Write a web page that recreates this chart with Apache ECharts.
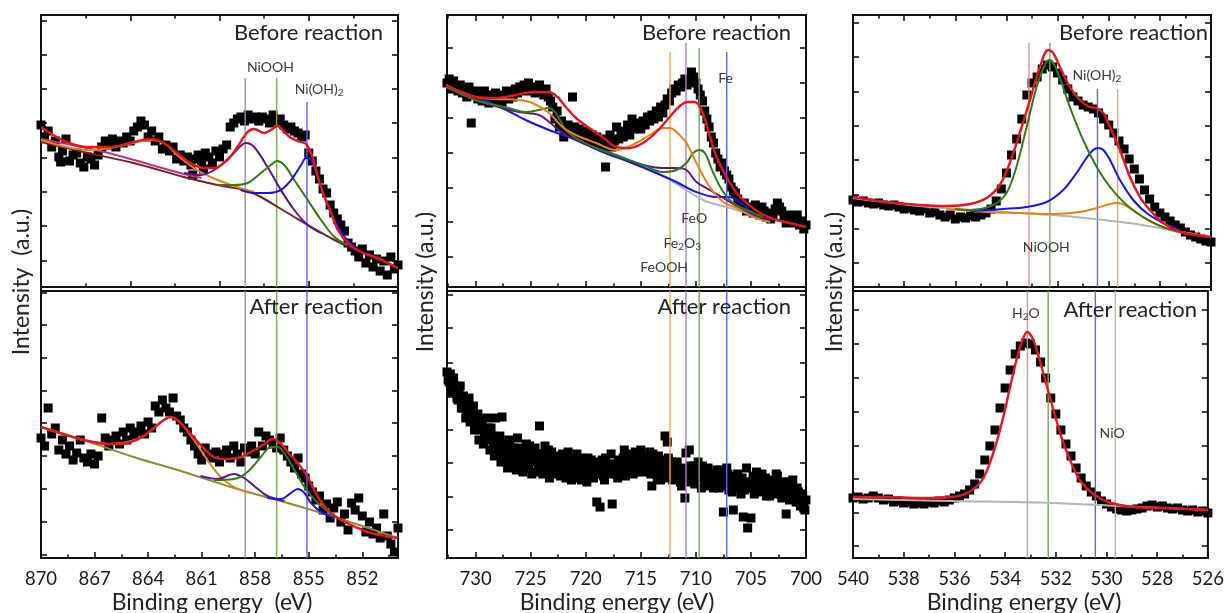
<!DOCTYPE html>
<html><head><meta charset="utf-8">
<script src="https://cdn.jsdelivr.net/npm/echarts@6/dist/echarts.min.js"></script>
<style>html,body{margin:0;padding:0;background:#fff}#c{width:1227px;height:613px}</style>
</head><body><div id="c"></div>
<script>
// ===== Ni 2p (intensity in a.u.) =====
const niBeforeData = [[870.0,162],[869.8,150],[869.6,156],[869.4,140],[869.2,146],[869.0,130],[868.9,125],[868.8,136],[868.6,148],[868.4,126],[868.2,132],[868.0,134],[867.8,124],[867.6,120],[867.4,130],[867.2,128],[867.0,122],[866.8,132],[866.6,140],[866.4,146],[866.2,142],[866.0,148],[865.8,140],[865.6,146],[865.4,144],[865.2,150],[865.0,146],[864.8,156],[864.6,160],[864.4,166],[864.2,162],[864.0,150],[863.8,156],[863.6,146],[863.4,150],[863.2,138],[863.0,142],[862.8,136],[862.6,140],[862.4,128],[862.2,132],[862.0,126],[861.8,130],[861.6,122],[861.5,112],[861.4,128],[861.2,132],[861.0,126],[860.9,118],[860.8,134],[860.6,130],[860.4,124],[860.2,136],[860.0,130],[859.8,138],[859.6,142],[859.4,160],[859.2,164],[859.0,168],[858.8,170],[858.6,166],[858.4,172],[858.2,168],[858.0,170],[857.8,166],[857.6,170],[857.4,168],[857.2,164],[857.0,172],[856.8,166],[856.6,168],[856.4,162],[856.2,158],[856.0,160],[855.8,156],[855.6,154],[855.4,150],[855.2,152],[855.0,134],[854.8,126],[854.6,116],[854.4,108],[854.2,98],[854.0,94],[853.8,82],[853.6,74],[853.4,68],[853.2,62],[853.0,56],[852.8,44],[852.6,40],[852.4,36],[852.2,30],[852.0,38],[851.8,24],[851.6,32],[851.4,20],[851.2,28],[851.0,16],[850.8,26],[850.6,12],[850.4,30],[850.2,18],[850.0,22]];
const niBeforeFit = [[870.0,160],[869.31,152],[868.56,145],[867.43,140],[866.12,140],[864.81,145],[863.87,148],[863.12,144],[862.37,134],[861.62,124],[860.87,119],[860.31,119],[859.56,127],[859.0,140],[858.43,155],[858.06,158],[857.49,154],[857.12,157],[856.74,161],[856.37,155],[855.99,149],[855.43,145],[855.15,143],[854.87,134],[854.49,110],[854.12,90],[853.74,74],[853.37,57],[852.81,44],[852.06,35],[851.12,29],[850.0,19]];
const niBeforeBg = [[870.0,145],[867.62,135],[864.81,124],[861.99,110],[860.12,102],[858.62,97],[857.68,90],[856.74,80],[855.81,70],[855.06,62],[853.56,47],[852.43,38],[851.31,29],[850.0,19]];
const niBeforeMg = [[870.0,148],[868.0,141],[866.0,133],[864.0,123],[862.0,113],[861.0,109]];
const niBeforeSat = [[870.0,147],[868.56,140],[867.43,137],[866.12,139],[864.81,144],[863.87,147],[863.12,144],[862.37,132],[861.43,119],[860.5,110],[859.19,101],[858.06,95]];
const niBeforeNiOOH = [[861.99,114],[861.06,112],[860.12,119],[859.19,134],[858.52,144],[858.06,140],[857.31,120],[856.56,97],[855.81,77],[855.06,62],[854.31,54]];
const niBeforeNi3 = [[860.12,102],[859.19,102],[858.43,104],[857.68,114],[857.12,122],[856.78,126],[856.37,122],[855.81,107],[855.06,87],[854.31,67],[853.56,50],[852.81,42]];
const niBeforeNiOH2 = [[858.81,97],[858.06,94],[857.31,94],[856.56,97],[855.99,107],[855.43,122],[855.15,129],[854.87,127],[854.49,110],[854.12,90],[853.56,67],[852.99,50],[852.43,40]];

const niAfterData = [[870.0,120],[869.8,112],[869.6,150],[869.4,124],[869.2,130],[869.0,108],[868.8,118],[868.6,104],[868.4,112],[868.2,98],[868.0,105],[867.8,118],[867.6,100],[867.4,96],[867.2,104],[867.0,94],[866.8,102],[866.6,140],[866.4,120],[866.2,112],[866.0,118],[865.8,122],[865.6,114],[865.4,126],[865.2,118],[865.0,130],[864.8,122],[864.6,126],[864.4,132],[864.2,124],[864.0,136],[863.8,130],[863.6,152],[863.4,146],[863.2,158],[863.0,150],[862.8,146],[862.6,160],[862.4,142],[862.2,138],[862.0,130],[861.8,126],[861.6,118],[861.4,112],[861.2,104],[861.0,98],[860.8,110],[860.6,104],[860.4,100],[860.2,106],[860.0,96],[859.8,104],[859.6,108],[859.4,100],[859.2,112],[859.0,104],[858.8,96],[858.6,110],[858.4,106],[858.2,112],[858.0,104],[857.8,126],[857.6,112],[857.4,122],[857.2,118],[857.0,114],[856.8,110],[856.6,120],[856.4,108],[856.2,102],[856.0,96],[855.8,90],[855.6,100],[855.4,84],[855.2,80],[855.0,72],[854.8,66],[854.6,58],[854.4,62],[854.2,48],[854.0,54],[853.8,40],[853.6,50],[853.4,56],[853.2,36],[853.0,44],[852.8,28],[852.6,55],[852.4,48],[852.2,60],[852.0,42],[851.8,26],[851.6,36],[851.4,24],[851.2,30],[851.0,20],[850.8,44],[850.6,22],[850.4,14],[850.2,6],[850.0,30]];
const niAfterFit = [[870.0,131],[868.93,125],[867.62,118],[866.12,114],[865.18,115],[864.43,120],[863.68,130],[863.12,138],[862.74,141],[862.37,138],[861.81,128],[861.06,113],[860.31,101],[859.56,99],[858.81,101],[858.06,108],[857.49,114],[857.02,119],[856.65,116],[856.18,106],[855.62,95],[855.06,81],[854.49,61],[853.93,48],[853.37,40],[852.62,33],[851.68,26],[850.74,22],[850.0,20]];
const niAfterBg = [[870.0,131],[867.62,118],[864.81,101],[862.0,86],[859.19,70],[856.37,56],[853.56,41],[851.68,30],[850.0,20]];
const niAfterSat = [[870.0,131],[867.62,118],[866.12,114],[864.43,120],[863.68,130],[863.12,138],[862.74,141],[862.18,135],[861.43,118],[860.68,98],[859.93,81],[859.19,71],[858.43,66]];
const niAfterNiOOH = [[861.06,82],[860.12,79],[859.19,84],[858.62,80],[858.06,72],[857.31,62],[856.37,57]];
const niAfterNi3 = [[860.31,78],[859.19,79],[858.43,86],[857.68,101],[857.12,111],[856.74,111],[856.37,105],[855.8,88],[855.24,71],[854.49,55],[853.56,42]];
const niAfterNiOH2 = [[857.31,60],[856.56,59],[856.0,65],[855.62,69],[855.24,65],[854.87,55],[854.31,46],[853.56,40]];

// ===== Fe 2p =====
const feBeforeData = [[732.6,204],[732.4,208],[732.2,198],[732.0,206],[731.8,200],[731.6,196],[731.4,202],[731.2,194],[731.0,198],[730.8,190],[730.6,200],[730.4,164],[730.2,192],[730.0,196],[729.8,188],[729.6,194],[729.4,186],[729.2,196],[729.0,190],[728.8,184],[728.6,192],[728.4,188],[728.2,194],[728.0,186],[727.8,192],[727.6,184],[727.4,190],[727.2,196],[727.0,188],[726.8,194],[726.6,190],[726.4,198],[726.2,194],[726.0,200],[725.8,196],[725.6,202],[725.4,198],[725.2,204],[725.0,196],[724.8,200],[724.6,194],[724.4,198],[724.2,202],[724.0,196],[723.8,192],[723.6,198],[723.4,190],[723.2,186],[723.0,180],[722.8,168],[722.6,176],[722.4,160],[722.2,166],[722.0,150],[721.8,158],[721.6,162],[721.4,154],[721.2,190],[721.0,160],[720.8,152],[720.6,158],[720.4,150],[720.2,156],[720.0,148],[719.8,154],[719.6,146],[719.4,152],[719.2,144],[719.0,150],[718.8,142],[718.6,148],[718.4,140],[718.2,120],[718.0,146],[717.8,152],[717.6,140],[717.4,146],[717.2,160],[717.0,148],[716.8,154],[716.6,150],[716.4,156],[716.2,162],[716.0,152],[715.8,168],[715.6,158],[715.4,164],[715.2,160],[715.0,158],[714.8,166],[714.6,162],[714.4,170],[714.2,166],[714.0,172],[713.8,168],[713.6,176],[713.4,170],[713.2,180],[713.0,174],[712.8,182],[712.6,188],[712.4,186],[712.2,194],[712.0,198],[711.8,196],[711.6,202],[711.4,200],[711.2,204],[711.0,208],[710.8,202],[710.6,206],[710.4,215],[710.2,210],[710.0,204],[709.8,198],[709.6,192],[709.4,186],[709.2,176],[709.0,168],[708.8,160],[708.6,150],[708.4,144],[708.2,134],[708.0,128],[707.8,120],[707.6,124],[707.4,116],[707.2,112],[707.0,108],[706.8,100],[706.6,96],[706.4,94],[706.2,88],[706.0,84],[705.8,80],[705.6,84],[705.4,76],[705.2,78],[705.0,80],[704.8,74],[704.6,82],[704.4,78],[704.2,72],[704.0,80],[703.8,76],[703.6,70],[703.4,74],[703.2,68],[703.0,72],[702.8,78],[702.6,84],[702.4,80],[702.2,76],[702.0,70],[701.8,64],[701.6,72],[701.4,66],[701.2,70],[701.0,64],[700.8,72],[700.6,62],[700.4,66],[700.2,58],[700.0,62]];
const feBeforeFit = [[732.69,202],[731.54,196],[730.02,190],[728.19,189],[726.37,192],[724.85,195],[723.33,195],[722.57,190],[721.81,180],[720.89,169],[719.68,159],[718.46,150],[717.24,140],[716.03,139],[714.81,144],[713.59,155],[712.38,170],[711.47,181],[710.71,185],[710.10,185],[709.49,177],[708.89,157],[708.12,130],[707.21,110],[706.30,94],[705.38,84],[704.17,74],[702.65,67],[701.13,63],[700.0,60]];
const feBeforeFeOOH = [[732.69,202],[731.54,196],[730.02,190],[728.19,188],[726.06,187],[724.85,184],[723.33,174],[722.11,160],[720.89,152],[719.07,144],[717.24,137],[715.42,144],[714.20,152],[712.99,159],[712.38,159],[711.77,155],[710.86,144],[709.95,124],[708.73,100],[707.51,85],[706.30,79],[704.77,70],[703.25,65]];
const feBeforeFeO = [[732.69,200],[730.02,187],[726.98,179],[725.46,175],[724.24,177],[723.33,179],[722.72,174],[721.81,157],[720.89,149],[719.07,139],[717.24,132],[714.81,122],[712.99,115],[711.77,117],[710.86,124],[710.25,134],[709.70,137],[709.18,134],[708.42,114],[707.51,95],[706.60,84],[705.38,77],[703.86,70]];
const feBeforeFe2O3 = [[732.69,200],[730.02,187],[727.59,179],[726.06,175],[724.24,172],[723.33,165],[722.11,154],[720.29,144],[718.46,137],[716.64,129],[714.81,122],[712.99,119],[711.77,119],[710.86,117],[709.95,105],[708.73,97],[707.21,87],[705.69,77],[704.17,70],[702.65,67],[700.0,60]];
const feBeforeFe = [[732.69,201],[730.02,190],[727.59,179],[725.46,167],[723.33,157],[720.89,147],[718.46,135],[716.03,125],[713.59,114],[711.77,105],[709.95,95],[708.12,90],[707.21,90],[706.60,89],[705.69,82],[704.77,74],[703.25,67]];
const feBeforeBg = [[717.24,130],[712.99,111],[709.34,87],[706.9,79],[704.17,70]];
const feAfterData = [[732.6,186],[732.4,176],[732.2,170],[732.0,180],[731.8,166],[731.6,158],[731.4,172],[731.2,150],[731.0,156],[730.8,146],[730.6,160],[730.4,140],[730.2,152],[730.0,134],[729.8,144],[729.6,128],[729.4,138],[729.2,122],[729.0,140],[728.8,118],[728.6,130],[728.4,112],[728.2,140],[728.0,106],[727.8,122],[727.6,141],[727.5,100],[727.4,114],[727.2,96],[727.0,118],[726.8,104],[726.6,110],[726.4,98],[726.2,120],[726.0,102],[725.8,108],[725.6,94],[725.4,114],[725.2,90],[725.0,106],[724.8,100],[724.6,110],[724.4,86],[724.2,132],[724.0,98],[723.8,104],[723.6,92],[723.4,108],[723.2,88],[723.0,100],[722.8,94],[722.6,84],[722.4,102],[722.2,90],[722.0,96],[721.8,80],[721.6,106],[721.4,88],[721.2,98],[721.0,84],[720.8,104],[720.6,92],[720.4,78],[720.2,98],[720.0,88],[719.8,100],[719.6,82],[719.4,94],[719.2,86],[719.0,56],[718.8,96],[718.7,51],[718.6,90],[718.4,82],[718.2,100],[718.0,88],[717.8,94],[717.6,54],[717.4,92],[717.2,84],[717.0,98],[716.8,88],[716.6,100],[716.4,82],[716.2,96],[716.0,104],[715.8,90],[715.6,98],[715.4,86],[715.2,102],[715.0,108],[714.8,94],[714.6,100],[714.4,88],[714.2,106],[714.0,72],[713.8,96],[713.6,84],[713.4,102],[713.2,78],[713.0,94],[712.8,122],[712.6,116],[712.4,84],[712.2,96],[712.0,88],[711.8,92],[711.6,80],[711.4,76],[711.2,90],[711.0,60],[710.9,105],[710.8,84],[710.6,108],[710.4,80],[710.2,92],[710.0,86],[709.8,96],[709.6,80],[709.4,92],[709.2,74],[709.0,86],[708.8,78],[708.6,84],[708.4,70],[708.2,80],[708.0,74],[707.8,88],[707.6,72],[707.5,46],[707.4,78],[707.2,90],[707.0,68],[706.8,80],[706.6,48],[706.4,76],[706.2,84],[706.0,72],[705.8,80],[705.7,41],[705.6,68],[705.4,90],[705.3,30],[705.2,76],[705.0,40],[704.8,82],[704.6,70],[704.4,78],[704.2,66],[704.0,84],[703.8,72],[703.6,62],[703.4,78],[703.2,68],[703.0,74],[702.8,64],[702.6,82],[702.4,70],[702.2,60],[702.0,76],[701.8,44],[701.6,72],[701.4,66],[701.2,78],[701.0,62],[700.8,70],[700.6,56],[700.4,64],[700.2,50],[700.0,58],
 [732.5,178],[732.3,184],[732.1,166],[731.9,172],[731.7,160],[731.5,168],[731.3,150],[731.1,162],[730.9,140],[730.7,150],[730.5,136],[730.3,146],[730.1,128],[729.9,138],[729.7,118],[729.5,132],[729.3,114],[729.1,126],[728.9,130],[728.7,108],[728.5,122],[728.3,102],[728.1,116],[727.9,110],[727.7,96],[727.3,108],[727.1,90],[726.9,112],[726.7,92],[726.5,106],[726.3,88],[726.1,110],[725.9,96],[725.7,86],[725.5,104],[725.3,98],[725.1,112],[724.9,84],[724.7,96],[724.5,104],[724.3,90],[724.1,100],[723.9,84],[723.7,112],[723.5,96],[723.3,80],[723.1,106],[722.9,86],[722.7,100],[722.5,92],[722.3,82],[722.1,104],[721.9,94],[721.7,86],[721.5,100],[721.3,78],[721.1,92],[720.9,88],[720.7,80],[720.5,100],[720.3,86],[720.1,94],[719.9,76],[719.7,90],[719.5,98],[719.3,80],[719.1,92],[718.9,84],[718.5,98],[718.3,78],[718.1,92],[717.9,84],[717.7,104],[717.5,86],[717.3,94],[717.1,80],[716.9,96],[716.7,90],[716.5,108],[716.3,86],[716.1,98],[715.9,92],[715.7,84],[715.5,106],[715.3,94],[715.1,88],[714.9,100],[714.7,86],[714.5,96],[714.3,92],[714.1,84],[713.9,104],[713.7,90],[713.5,80],[713.3,98],[713.1,86],[712.9,92],[712.7,80],[712.5,100],[712.3,90],[712.1,78],[711.9,86],[711.7,96],[711.5,84],[711.3,72],[711.1,88],[710.7,76],[710.5,92],[710.3,84],[710.1,74],[709.9,90],[709.7,86],[709.5,70],[709.3,84],[709.1,78],[708.9,90],[708.7,72],[708.5,82],[708.3,76],[708.1,88],[707.9,70],[707.7,80],[707.3,72],[707.1,84],[706.9,74],[706.7,66],[706.5,82],[706.3,70],[706.1,78],[705.9,64],[705.5,74],[705.1,70],[704.9,76],[704.7,64],[704.5,86],[704.3,72],[704.1,78],[703.9,68],[703.7,80],[703.5,70],[703.3,62],[703.1,76],[702.9,70],[702.7,84],[702.5,66],[702.3,74],[702.1,68],[701.9,62],[701.7,76],[701.5,58],[701.3,70],[701.1,64],[700.9,56],[700.7,66],[700.5,52],[700.3,62],[700.1,48]];

// ===== O 1s =====
const oBeforeData = [[540.0,87],[539.8,85],[539.6,86],[539.4,84],[539.2,83],[539.0,84],[538.8,82],[538.6,81],[538.4,82],[538.2,80],[538.0,78],[537.8,79],[537.6,77],[537.4,76],[537.2,78],[537.0,74],[536.8,75],[536.6,72],[536.4,70],[536.2,72],[536.0,68],[535.8,70],[535.6,69],[535.4,71],[535.2,70],[535.0,72],[534.8,74],[534.6,78],[534.4,86],[534.2,98],[534.0,114],[533.8,132],[533.6,148],[533.4,168],[533.2,192],[533.0,204],[532.8,210],[532.6,218],[532.4,222],[532.2,220],[532.0,214],[531.8,207],[531.6,198],[531.4,190],[531.2,186],[531.0,182],[530.8,180],[530.6,178],[530.4,174],[530.2,168],[530.0,162],[529.8,154],[529.6,146],[529.4,138],[529.2,128],[529.0,118],[528.8,108],[528.6,97],[528.4,88],[528.2,80],[528.0,74],[527.8,70],[527.6,66],[527.4,62],[527.2,59],[527.0,55],[526.8,52],[526.6,50],[526.4,48],[526.2,46],[526.0,45]];
const oBeforeFit = [[540.0,90],[538.70,85],[537.39,82],[536.35,81],[535.43,83],[534.78,89],[534.26,102],[533.87,124],[533.48,154],[533.08,187],[532.69,220],[532.37,237],[532.17,234],[531.91,220],[531.52,200],[531.13,187],[530.74,180],[530.47,179],[530.21,174],[529.95,160],[529.56,137],[529.17,110],[528.78,90],[528.39,77],[527.87,64],[527.21,55],[526.56,52],[526.0,50]];
const oBeforeNiOOH = [[536.0,78],[535.43,77],[534.52,82],[534.0,94],[533.61,120],[533.21,160],[532.82,200],[532.5,222],[532.33,227],[532.17,224],[531.91,209],[531.52,180],[531.0,147],[530.47,120],[529.95,100],[529.30,82],[528.65,70],[527.87,60],[526.95,54]];
const oBeforeNiOH2 = [[535.43,76],[534.13,78],[533.21,80],[532.43,85],[531.78,97],[531.26,114],[530.87,129],[530.61,137],[530.41,139],[530.21,137],[529.95,127],[529.56,107],[529.04,87],[528.52,74],[527.87,64],[527.21,57]];
const oBeforeNiO = [[536.35,78],[534.78,75],[533.48,74],[532.17,73],[531.13,75],[530.47,79],[529.95,83],[529.65,84],[529.30,81],[528.78,72],[528.26,64],[527.6,57],[526.95,54],[526.0,50]];
const oBeforeBg = [[540.0,89],[537.39,81],[534.78,76],[532.17,72],[530.21,67],[528.91,63],[527.6,57],[526.0,50]];
const oAfterData = [[540.0,60],[539.8,61],[539.6,59],[539.4,60],[539.2,62],[539.0,60],[538.8,58],[538.6,59],[538.4,56],[538.2,57],[538.0,55],[537.8,56],[537.6,54],[537.4,55],[537.2,54],[537.0,56],[536.8,55],[536.6,57],[536.4,56],[536.2,58],[536.0,60],[535.8,62],[535.6,64],[535.4,68],[535.2,74],[535.0,84],[534.8,98],[534.6,112],[534.4,128],[534.2,150],[534.0,170],[533.8,188],[533.6,204],[533.4,212],[533.2,215],[533.0,214],[532.8,208],[532.6,196],[532.4,180],[532.2,160],[532.0,144],[531.8,128],[531.6,114],[531.4,102],[531.2,90],[531.0,80],[530.8,72],[530.6,66],[530.4,62],[530.2,57],[530.0,54],[529.8,51],[529.6,49],[529.4,48],[529.2,47],[529.0,48],[528.8,49],[528.6,50],[528.4,52],[528.2,53],[528.0,51],[527.8,52],[527.6,50],[527.4,49],[527.2,50],[527.0,48],[526.8,47],[526.6,48],[526.4,46],[526.2,47],[526.0,45]];
const oAfterFit = [[540.0,61],[538.7,61],[537.39,60],[536.09,61],[535.43,66],[534.91,78],[534.52,101],[534.13,135],[533.74,178],[533.41,211],[533.12,226],[532.89,218],[532.56,191],[532.17,155],[531.78,121],[531.39,95],[531.0,76],[530.47,63],[529.82,55],[528.91,51],[527.6,50],[526.0,48]];
const oAfterBg = [[540.0,59],[536.09,57],[532.17,55],[529.56,52],[526.0,48]];

// ===== axis ticks =====
const niTopMajor = [855,860,865], niTopMinor = [852.5,857.5,862.5,867.5];
const niBotMajor = [852,855,858,861,864,867,870], niBotMinor = [850.5,853.5,856.5,859.5,862.5,865.5,868.5];
const feMajor = [700,705,710,715,720,725,730], feMinor = [702.5,707.5,712.5,717.5,722.5,727.5,732.5];
const oMajor = [526,528,530,532,534,536,538,540], oMinor = [527,529,531,533,535,537,539];
const niTopY = [26,61,95,129,164,198,232,266], niBotY = [3,36,69,102,135,167,200,233,265];
const feTopY = [30,65,99,134,169,204,239], feBotY = [28,61,95,128,161,195,230,263];
const oTopY = [24,58,92,127,161,195,230,264], oBotY = [12,45,79,112,146,180,214,248];

// reference line energies and labels
const niLines = [858.56, 856.8, 855.1], niLineTop = [209, 209, 185];
const feLines = [712.35, 710.9, 709.7, 707.2], feLineTop = [235, 244, 239, 235];
const oLines = [533.12, 532.3, 530.44, 529.65], oLineTop = [244, 244, 198, 198];

const FONT = 'Lato, "Open Sans", sans-serif';
const C = {red:'#e8141c', brown:'#7a1e1e', mag:'#c0308f', orange:'#ee7f16', purple:'#5a1690', green:'#2f7c10', blue:'#1414f0', olive:'#8f8a2e', gray:'#b4b4b4'};
const VL = {purple:'#b07ed4', green:'#72ab55', blue:'#6060ff', orange:'#f3a65b', red:'#ef8a8a'};

const panels = [
  {left:41, width:357, min:850, max:870, title:'Binding energy  (eV)', ytitle:'Intensity  (a.u.)', tx:212, yx:22,
   top:{major:niTopMajor, minor:niTopMinor, yt:niTopY, data:niBeforeData,
        curves:[[niBeforeBg,C.brown],[niBeforeMg,C.mag],[niBeforeSat,C.orange],[niBeforeNiOOH,C.purple],[niBeforeNi3,C.green],[niBeforeNiOH2,C.blue],[niBeforeFit,C.red]],
        lines:niLines, lineTop:niLineTop, lineCol:[VL.purple,VL.green,VL.blue]},
   bot:{major:niBotMajor, minor:niBotMinor, yt:niBotY, data:niAfterData,
        curves:[[niAfterBg,C.olive],[niAfterSat,C.orange],[niAfterNiOOH,C.purple],[niAfterNi3,C.green],[niAfterNiOH2,C.blue],[niAfterFit,C.red]],
        lines:niLines, lineCol:[VL.purple,VL.green,VL.blue]}},
  {left:447, width:359, min:700, max:732.6, title:'Binding energy (eV)', ytitle:'Intensity (a.u.)', tx:617, yx:426,
   top:{major:feMajor, minor:feMinor, yt:feTopY, data:feBeforeData,
        curves:[[feBeforeBg,C.gray],[feBeforeFe,C.blue],[feBeforeFe2O3,C.purple],[feBeforeFeO,C.green],[feBeforeFeOOH,C.orange],[feBeforeFit,C.red]],
        lines:feLines, lineTop:feLineTop, lineCol:[VL.orange,VL.purple,VL.green,VL.blue]},
   bot:{major:feMajor, minor:feMinor, yt:feBotY, data:feAfterData, curves:[],
        lines:feLines, lineCol:[VL.orange,VL.purple,VL.green,VL.blue]}},
  {left:853, width:358, min:526, max:540, title:'Binding energy (eV)', ytitle:'Intensity (a.u.)', tx:1024, yx:835,
   top:{major:oMajor, minor:oMinor, yt:oTopY, data:oBeforeData,
        curves:[[oBeforeBg,C.gray],[oBeforeNiO,C.orange],[oBeforeNiOH2,C.blue],[oBeforeNiOOH,C.green],[oBeforeFit,C.red]],
        lines:oLines, lineTop:oLineTop, lineCol:[VL.red,VL.green,VL.blue,VL.orange]},
   bot:{major:oMajor, minor:oMinor, yt:oBotY, data:oAfterData,
        curves:[[oAfterBg,C.gray],[oAfterFit,C.red]],
        lines:oLines, lineCol:[VL.red,VL.green,VL.blue,VL.orange]}}
];

const TOP_Y = 15, TOP_H = 272, BOT_Y = 291, BOT_H = 267;
const grids=[], xAxis=[], yAxis=[], series=[], refs=[];
const tickStyle = {color:'#111', width:1.6};
panels.forEach((p, pi) => {
  ['top','bot'].forEach(k => {
    const g = p[k], isTop = k === 'top';
    const gi = grids.length;
    const H = isTop ? TOP_H : BOT_H;
    grids.push({left:p.left, width:p.width, top:isTop?TOP_Y:BOT_Y, height:H, show:true, borderColor:'#111', borderWidth:2, backgroundColor:'rgba(0,0,0,0)'});
    const bx = {type:'value', gridIndex:gi, min:p.min, max:p.max, inverse:true, axisLine:{show:false}, splitLine:{show:false}};
    const xi = xAxis.length;
    xAxis.push(Object.assign({}, bx, {position:'bottom',
      axisTick:{show:true, inside:true, length:6, customValues:g.major, lineStyle:tickStyle},
      axisLabel:{show:!isTop, customValues:g.major, showMinLabel:true, showMaxLabel:true, fontSize:18.5, color:'#1a1a1a', margin:12, fontFamily:FONT}}));
    xAxis.push(Object.assign({}, bx, {position:'bottom',
      axisTick:{show:true, inside:true, length:3.5, customValues:g.minor, lineStyle:tickStyle}, axisLabel:{show:false}}));
    if (isTop) {
      xAxis.push(Object.assign({}, bx, {position:'top',
        axisTick:{show:true, inside:true, length:6, customValues:g.major, lineStyle:tickStyle}, axisLabel:{show:false}}));
      xAxis.push(Object.assign({}, bx, {position:'top',
        axisTick:{show:true, inside:true, length:3.5, customValues:g.minor, lineStyle:tickStyle}, axisLabel:{show:false}}));
    }
    const by = {type:'value', gridIndex:gi, min:0, max:H, axisLine:{show:false}, splitLine:{show:false}, axisLabel:{show:false}};
    const yi = yAxis.length;
    yAxis.push(Object.assign({}, by, {position:'left', axisTick:{show:true, inside:true, length:6, customValues:g.yt, lineStyle:tickStyle}}));
    yAxis.push(Object.assign({}, by, {position:'right', axisTick:{show:true, inside:true, length:6, customValues:g.yt, lineStyle:tickStyle}}));
    refs.push({xi, yi});
    series.push({type:'scatter', xAxisIndex:xi, yAxisIndex:yi, data:g.data, symbol:'rect', symbolSize:9,
      itemStyle:{color:'#000', opacity:1}, silent:true, z:2});
    g.lines.forEach((e, li) => {
      series.push({type:'line', xAxisIndex:xi, yAxisIndex:yi, data:[[e,0],[e, isTop ? g.lineTop[li] : H]],
        showSymbol:false, lineStyle:{color:g.lineCol[li], width:1.4}, silent:true, z:3});
    });
    g.curves.forEach(c => {
      series.push({type:'line', xAxisIndex:xi, yAxisIndex:yi, data:c[0], smooth:0.35, showSymbol:false,
        lineStyle:{color:c[1], width:c[1]===C.red?2.4:2}, silent:true, z:4});
    });
  });
});

const chart = echarts.init(document.getElementById('c'));
chart.setOption({animation:false, backgroundColor:'#fff', grid:grids, xAxis, yAxis, series});

// annotation texts anchored to data coordinates
const annotations = [
  [0, 857.15, 220, '{n|NiOOH}'],
  [0, 854.42, 198, '{n|Ni(OH)}{s|2}'],
  [2, 707.3, 209, '{n|Fe}'],
  [2, 710.15, 69, '{n|FeO}'],
  [2, 711.24, 44, '{n|Fe}{s|2}{n|O}{s|3}'],
  [2, 712.88, 20, '{n|FeOOH}'],
  [4, 530.46, 212, '{n|Ni(OH)}{s|2}'],
  [4, 532.44, 40, '{n|NiOOH}'],
  [5, 533.18, 245, '{n|H}{s|2}{n|O}'],
  [5, 529.78, 125, '{n|NiO}']
];
const graphic = [];
annotations.forEach(a => {
  const r = refs[a[0]];
  const pt = chart.convertToPixel({xAxisIndex:r.xi, yAxisIndex:r.yi}, [a[1], a[2]]);
  graphic.push({type:'text', x:pt[0], y:pt[1], z:10, style:{text:a[3], align:'center', verticalAlign:'middle', textAlign:'center', textVerticalAlign:'middle',
    rich:{n:{fontSize:14, fontFamily:FONT, fill:'#3a3a3a', color:'#3a3a3a'}, s:{fontSize:10, fontFamily:FONT, fill:'#3a3a3a', color:'#3a3a3a', padding:[8,0,0,0]}}}});
});
const bigFont = '22px ' + FONT;
panels.forEach((p, pi) => {
  const right = p.left + p.width;
  // frame sides continue across the gap between the two stacked plots
  [p.left, right].forEach(xx => graphic.push({type:'line', z:10, shape:{x1:xx, y1:TOP_Y + TOP_H, x2:xx, y2:BOT_Y}, style:{stroke:'#111', lineWidth:2}}));
  graphic.push({type:'text', x: right - (pi===2?3:15), y:33, z:10, style:{text:'Before reaction', font:bigFont, fill:'#222', align:'right', verticalAlign:'middle', textAlign:'right', textVerticalAlign:'middle'}});
  graphic.push({type:'text', x: right - (pi===2?14:15), y:pi===2?310:307, z:10, style:{text:'After reaction', font:bigFont, fill:'#222', align:'right', verticalAlign:'middle', textAlign:'right', textVerticalAlign:'middle'}});
  graphic.push({type:'text', x:p.tx, y:603, z:10, style:{text:p.title, font:'23px ' + FONT, fill:'#222', align:'center', verticalAlign:'middle', textAlign:'center', textVerticalAlign:'middle'}});
  graphic.push({type:'text', x:p.yx, y:282, rotation:Math.PI/2, z:10, style:{text:p.ytitle, font:'23px ' + FONT, fill:'#222', align:'center', verticalAlign:'middle', textAlign:'center', textVerticalAlign:'middle'}});
});
chart.setOption({graphic});
</script>
</body></html>
